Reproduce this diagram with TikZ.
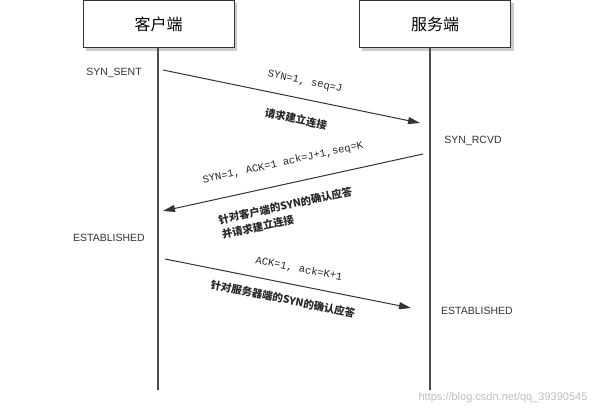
\documentclass[tikz,border=0pt]{standalone}
\usepackage{fontspec}
\setmainfont{Liberation Sans}
\setmonofont{Liberation Mono}
\newfontfamily\cjk{Noto Sans CJK SC}
\usetikzlibrary{arrows.meta}
\begin{document}
\begin{tikzpicture}[x=1pt,y=-1pt,
  actor/.style={draw=black!80,fill=white,minimum width=151pt,minimum height=47pt,font=\cjk\fontsize{16}{16}\selectfont},
  life/.style={draw=black!70,line width=1.1pt},
  msg/.style={draw=black!80,line width=1pt,-{Triangle[length=12pt,width=7pt]}},
  state/.style={font=\fontsize{10.5}{12}\selectfont,text=black!80},
  lab/.style={font=\ttfamily\fontsize{10.5}{12}\selectfont,text=black!85,inner sep=1pt},
  clab/.style={font=\cjk\bfseries\fontsize{10.5}{15}\selectfont,text=black!85,inner sep=1pt}]
\useasboundingbox (0,0) rectangle (616,417);
\fill[black!20] (86,3) rectangle (237,51);
\fill[black!20] (362,3) rectangle (514,51);
\node[actor] (c) at (158.5,24) {客户端};
\node[actor] (s) at (435,24) {服务端};
\coordinate (cb) at (158,390);
\coordinate (sb) at (430,390);
\draw[life] (c.south -| cb) -- (cb);
\draw[life] (s.south -| sb) -- (sb);
\coordinate (a1s) at (163,70); \coordinate (a1e) at (420,123);
\coordinate (a2s) at (423,154); \coordinate (a2e) at (163,211);
\coordinate (a3s) at (165,259); \coordinate (a3e) at (411,308);
\draw[msg] (a1s) -- (a1e);
\draw[msg] (a2s) -- (a2e);
\draw[msg] (a3s) -- (a3e);
\node[state] (st1) at (114,73) {SYN\_SENT};
\node[state] (st2) at (473,141) {SYN\_RCVD};
\node[state] (st3) at (109,238) {ESTABLISHED};
\node[state] (st4) at (477,311) {ESTABLISHED};
\node[lab,rotate=-11.7] (l1) at (305,82) {SYN=1, seq=J};
\node[clab,rotate=-11.7] (l2) at (296,119) {请求建立连接};
\node[lab,rotate=12.4] (l3) at (283,163) {SYN=1, ACK=1 ack=J+1,seq=K};
\node[clab,rotate=12.4,align=left] (l4) at (287,213) {针对客户端的SYN的确认应答\\并请求建立连接};
\node[lab,rotate=-11.3] (l5) at (299,269) {ACK=1, ack=K+1};
\node[clab,rotate=-11.3] (l6) at (283,299) {针对服务器端的SYN的确认应答};
\node[font=\fontsize{11}{12}\selectfont,text=black!25] (wm) at (503,398) {https://blog.csdn.net/qq\_39390545};
\end{tikzpicture}
\end{document}
